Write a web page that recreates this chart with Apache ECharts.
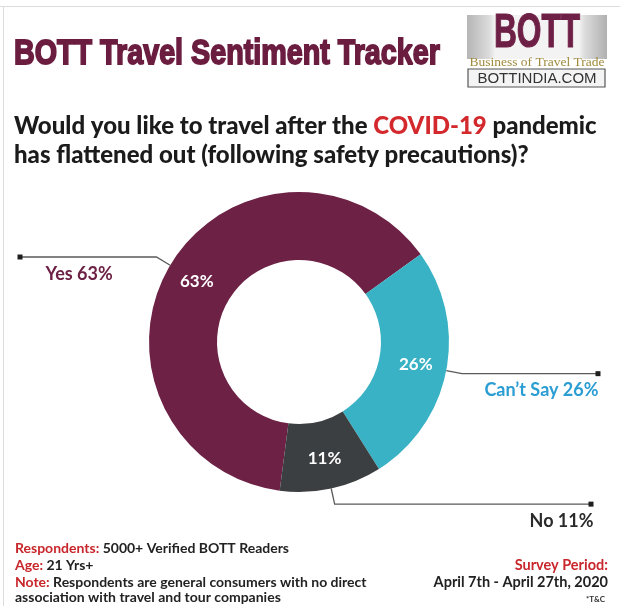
<!DOCTYPE html>
<html><head><meta charset="utf-8">
<script src="https://cdn.jsdelivr.net/npm/echarts@6/dist/echarts.min.js"></script>
<style>html,body{margin:0;padding:0;background:#fff}#c{width:620px;height:606px}</style>
</head><body><div id="c"></div>
<script>
// ---- data ----
const categories = ['Yes', 'Can\u2019t Say', 'No'];
const values = [63, 26, 11];
const sliceColors = ['#6c2145', '#38b2c4', '#3b3f42'];
const calloutColors = ['#6c2145', '#2a9dd3', '#2b2b2b'];

const FONT = "Lato, 'Noto Sans', sans-serif";
const chart = echarts.init(document.getElementById('c'), null, {renderer: 'canvas'});
const CX = 299, CY = 342, R0 = 82, R1 = 150;

const pieData = categories.map((c, i) => ({name: c, value: values[i], itemStyle: {color: sliceColors[i]}}));
const calloutData = categories.map((c, i) => ({name: c, value: values[i]}));

// edge x of each callout's horizontal line
const calloutEdge = {0: 20, 1: 598, 2: 591};

function txt(x, y, text, font, fill, align, extra) {
  return Object.assign({type: 'text', x: x, y: y, silent: true, style: Object.assign({
    text: text, font: font, fill: fill, textAlign: align || 'left', textVerticalAlign: 'middle'}, (extra && extra.style) || {})},
    (extra && extra.el) || {});
}
const fb = 'bold 14px ' + FONT;
const footRich = {r: {fill: '#c8262b', font: fb}};
const qf = '900 24px ' + FONT;

const option = {
  backgroundColor: '#ffffff',
  animation: false,
  graphic: [
    {type: 'rect', shape: {x: 0, y: 6, width: 620, height: 1}, style: {fill: '#dcdcdc'}, silent: true},
    {type: 'rect', shape: {x: 3, y: 6, width: 1, height: 600}, style: {fill: '#dcdcdc'}, silent: true},
    txt(14, 54, 'BOTT Travel Sentiment Tracker', "bold 35px 'Liberation Sans', Arial, sans-serif", '#6b1d40', 'left',
      {style: {stroke: '#6b1d40', lineWidth: 1.8}, el: {scaleX: 0.82}}),
    // logo
    {type: 'rect', shape: {x: 467, y: 15, width: 140, height: 44}, silent: true, style: {
      fill: {type: 'linear', x: 0, y: 0, x2: 1, y2: 0, colorStops: [
        {offset: 0, color: '#b5b5b5'}, {offset: 0.16, color: '#dcdcdc'}, {offset: 0.2, color: '#f3f3f3'},
        {offset: 0.8, color: '#f3f3f3'}, {offset: 0.84, color: '#dcdcdc'}, {offset: 1, color: '#b0b0b0'}]}}},
    txt(537, 34, 'BOTT', "bold 48px 'Liberation Sans', Arial, sans-serif", '#6e1f45', 'center',
      {style: {stroke: '#6e1f45', lineWidth: 1.2}, el: {scaleX: 0.66}}),
    txt(537, 62, 'Business of Travel Trade', "13.5px 'Liberation Serif', serif", '#a08a3c', 'center'),
    {type: 'rect', shape: {x: 468, y: 69, width: 137, height: 18}, silent: true, style: {fill: '#f4f4f4', stroke: '#555', lineWidth: 1.2}},
    txt(537, 78.5, 'BOTTINDIA.COM', "15px 'Liberation Sans', Arial, sans-serif", '#333', 'center'),
    // question
    txt(14, 126, 'Would you like to travel after the {r|COVID-19} pandemic', qf, '#1b1b1b', 'left',
      {style: {rich: {r: {fill: '#d3282c', font: qf}}}}),
    txt(14, 155, 'has flattened out (following safety precautions)?', qf, '#1b1b1b', 'left'),
    // footer left
    txt(15, 548, '{r|Respondents:} 5000+ Verified BOTT Readers', fb, '#222', 'left', {style: {rich: footRich}}),
    txt(15, 565, '{r|Age:} 21 Yrs+', fb, '#222', 'left', {style: {rich: footRich}}),
    txt(15, 582, '{r|Note:} Respondents are general consumers with no direct', fb, '#222', 'left', {style: {rich: footRich}}),
    txt(15, 597, 'association with travel and tour companies', fb, '#222', 'left'),
    // footer right
    txt(608, 565, 'Survey Period:', 'bold 14.5px ' + FONT, '#c8262b', 'right'),
    txt(608, 582, 'April 7th - April 27th, 2020', 'bold 14.5px ' + FONT, '#222', 'right'),
    txt(605, 599, '*T&C', 'bold 8px ' + FONT, '#333', 'right')
  ],
  series: [
    {
      type: 'pie', center: [CX, CY], radius: [R0, R1], startAngle: 262.6, clockwise: true,
      avoidLabelOverlap: false, silent: true,
      data: pieData,
      label: {show: true, position: 'inside', formatter: p => p.value + '%', color: '#fff',
        fontFamily: FONT, fontWeight: 'bold', fontSize: 17},
      labelLine: {show: false}
    },
    {
      type: 'pie', center: [CX, CY], radius: [R0, R1], startAngle: 262.6, clockwise: true,
      avoidLabelOverlap: false, silent: true, z: 3,
      itemStyle: {color: 'rgba(0,0,0,0)'},
      data: calloutData,
      label: {
        show: true, position: 'outside',
        formatter: p => '{sq|}\n{t' + p.dataIndex + '|' + p.name + ' ' + p.value + '%}',
        rich: {
          sq: {width: 5, height: 5, lineHeight: 5, backgroundColor: '#1e1e1e'},
          t0: {color: calloutColors[0], fontFamily: FONT, fontWeight: 'bold', fontSize: 18, lineHeight: 29, padding: [0, 0, 0, 28]},
          t1: {color: calloutColors[1], fontFamily: FONT, fontWeight: 'bold', fontSize: 18, lineHeight: 29, padding: [0, 2, 0, 0]},
          t2: {color: calloutColors[2], fontFamily: FONT, fontWeight: 'bold', fontSize: 18, lineHeight: 29, padding: [0, 0, 0, 0]}
        }
      },
      labelLine: {show: true, length: 16, length2: 10, smooth: false,
        lineStyle: {color: '#5a5a5a', width: 1.3}},
      labelLayout: function (p) {
        const pts = p.labelLinePoints;
        if (!pts) return {};
        const left = pts[1][0] < CX;
        const ex = calloutEdge[p.dataIndex];
        const y = pts[1][1];
        return {
          x: left ? ex - 2.5 : ex + 2.5,
          y: y - 2.5,
          align: left ? 'left' : 'right',
          verticalAlign: 'top',
          labelLinePoints: [pts[0], pts[1], [ex, y]]
        };
      }
    }
  ]
};
chart.setOption(option);
</script></body></html>
